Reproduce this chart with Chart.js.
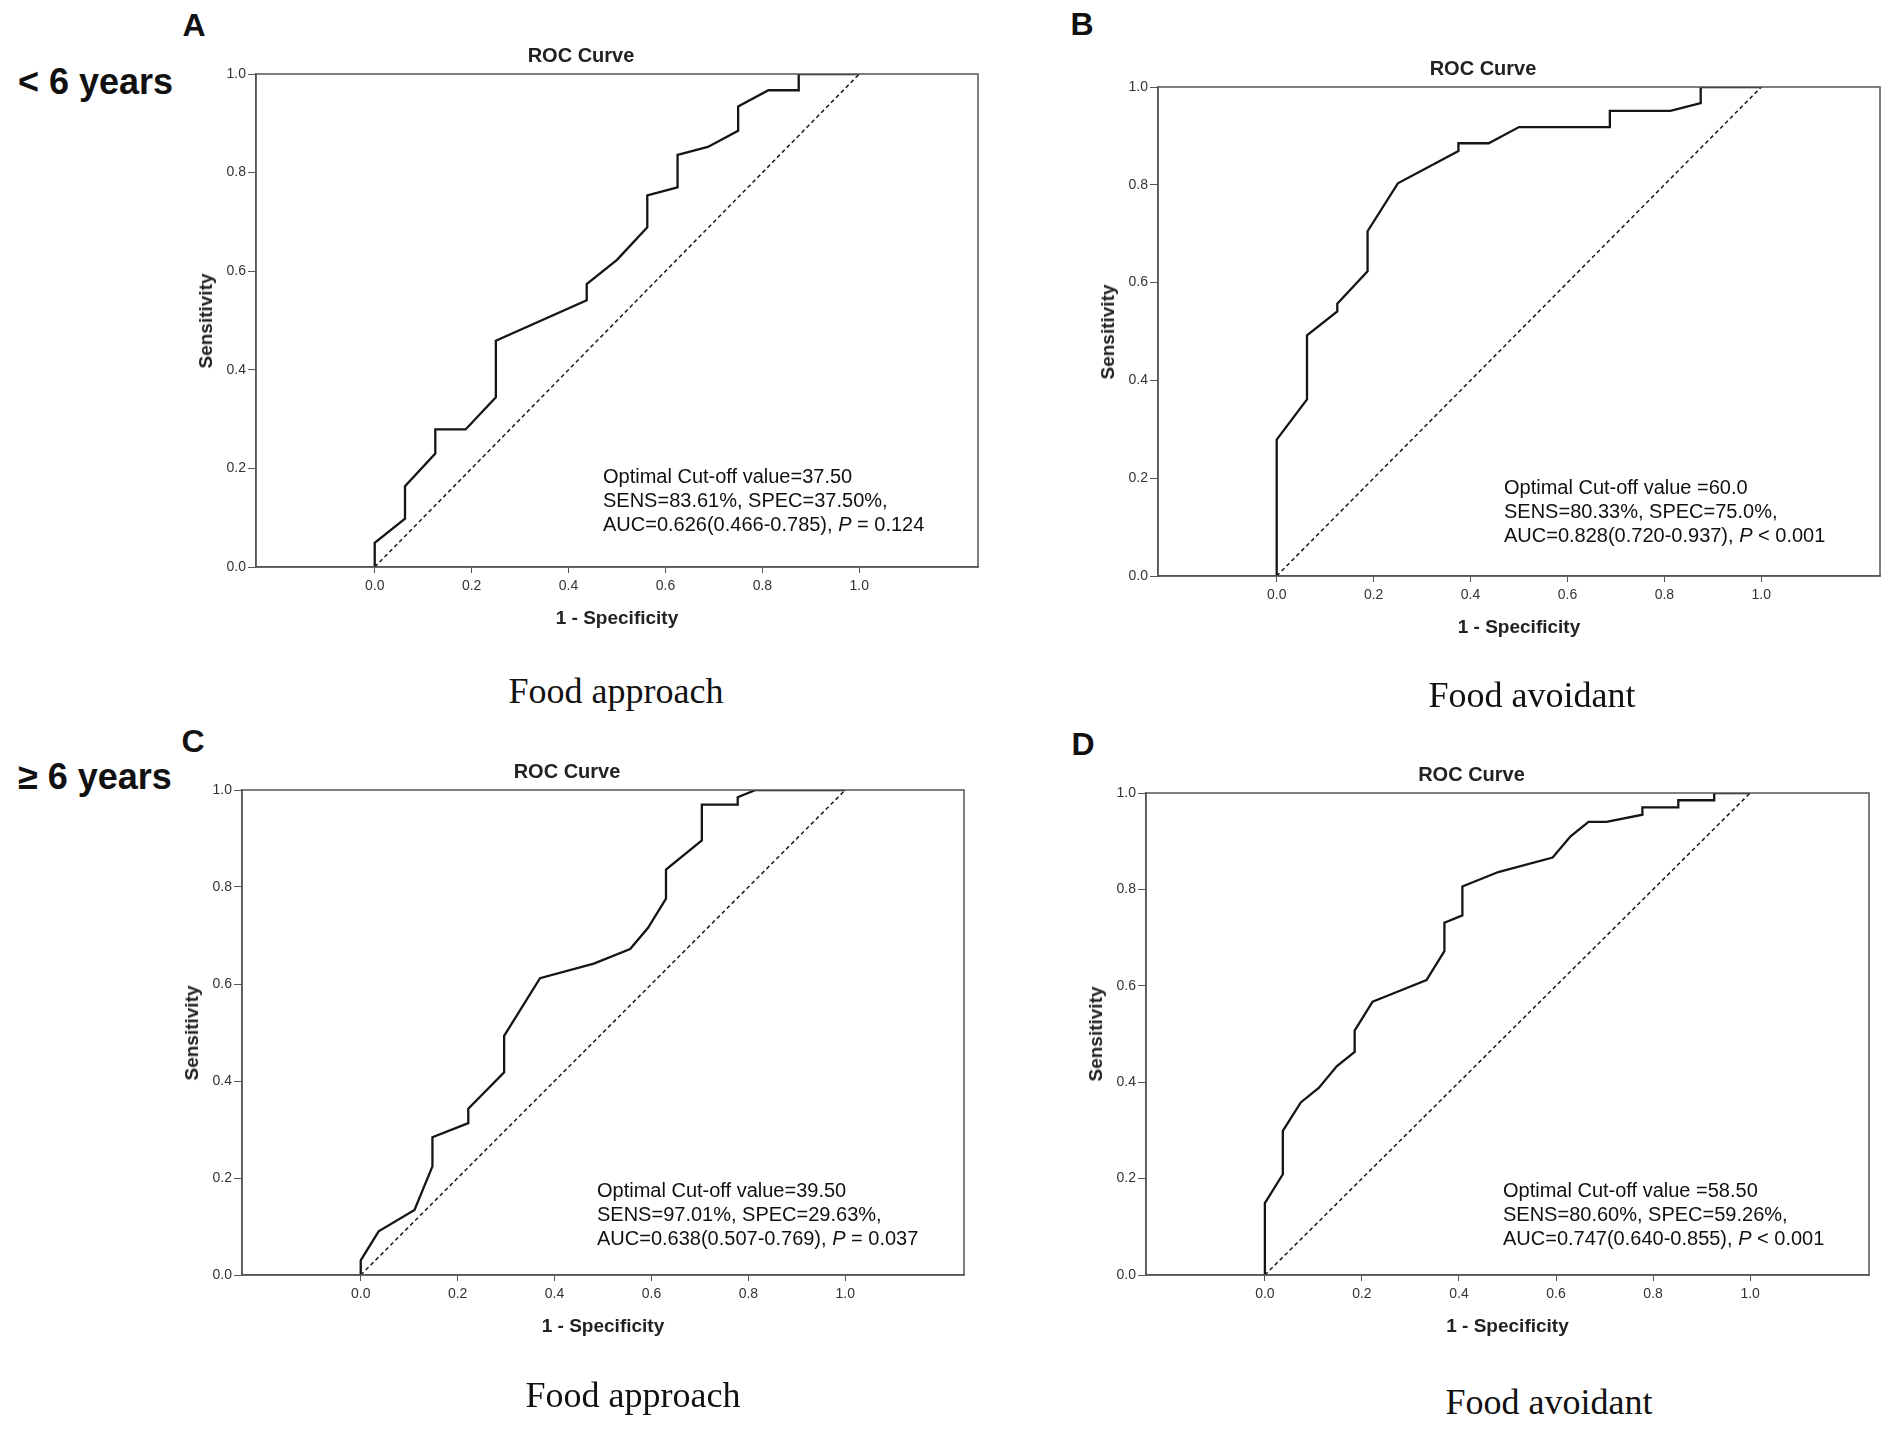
<!DOCTYPE html>
<html>
<head>
<meta charset="utf-8">
<title>ROC curves</title>
<script src="https://cdn.jsdelivr.net/npm/chart.js@4.4.0/dist/chart.umd.min.js"></script>
<style>
  html, body { margin: 0; padding: 0; background: #fff; }
  #page {
    position: relative; width: 1890px; height: 1436px; overflow: hidden;
    font-family: 'Liberation Sans', Arial, sans-serif; color: #111;
  }
  .abs { position: absolute; white-space: nowrap; }
  .mid { transform: translate(-50%, -50%); }
  .vmid { transform: translateY(-50%); }
  .letter { font-weight: bold; font-size: 32px; }
  .age { font-weight: bold; font-size: 36px; }
  .ttl { font-weight: bold; font-size: 20px; color: #222; }
  .xlab { font-weight: bold; font-size: 19px; color: #222; }
  .ylab { font-weight: bold; font-size: 19px; color: #222; transform: translate(-50%, -50%) rotate(-90deg); }
  .note { font-size: 20px; line-height: 24px; color: #111; }
  .cap { font-family: 'Liberation Serif', 'Times New Roman', serif; font-size: 36px; color: #111; }
</style>
</head>
<body>
<div id="page"></div>
<script>
// ROC curve data (1 - specificity vs sensitivity)
const tickVals = [0, 0.2, 0.4, 0.6, 0.8, 1.0];
const diagX = [0, 1];
const diagY = [0, 1];

// A: < 6 years, food approach
const fprA = [0, 0, 0.0625, 0.0625, 0.125, 0.125, 0.1875, 0.25, 0.25, 0.4375, 0.4375, 0.5, 0.5625, 0.5625, 0.625, 0.625, 0.6875, 0.75, 0.75, 0.8125, 0.875, 0.875, 1];
const tprA = [0, 0.049, 0.098, 0.164, 0.230, 0.279, 0.279, 0.344, 0.459, 0.541, 0.574, 0.623, 0.689, 0.754, 0.770, 0.836, 0.852, 0.885, 0.934, 0.967, 0.967, 1, 1];

// B: < 6 years, food avoidant
const fprB = [0, 0, 0.0625, 0.0625, 0.125, 0.125, 0.1875, 0.1875, 0.25, 0.375, 0.375, 0.4375, 0.5, 0.6875, 0.6875, 0.8125, 0.875, 0.875, 1];
const tprB = [0, 0.279, 0.361, 0.492, 0.541, 0.557, 0.623, 0.705, 0.803, 0.869, 0.885, 0.885, 0.918, 0.918, 0.951, 0.951, 0.967, 1, 1];

// C: >= 6 years, food approach
const fprC = [0, 0, 0.037, 0.111, 0.148, 0.148, 0.222, 0.222, 0.296, 0.296, 0.370, 0.481, 0.556, 0.593, 0.630, 0.630, 0.704, 0.704, 0.778, 0.778, 0.815, 1];
const tprC = [0, 0.030, 0.090, 0.134, 0.224, 0.284, 0.313, 0.343, 0.418, 0.493, 0.612, 0.642, 0.672, 0.716, 0.776, 0.836, 0.896, 0.970, 0.970, 0.985, 1, 1];

// D: >= 6 years, food avoidant
const fprD = [0, 0, 0.037, 0.037, 0.074, 0.111, 0.148, 0.185, 0.185, 0.222, 0.259, 0.333, 0.370, 0.370, 0.407, 0.407, 0.481, 0.593, 0.630, 0.667, 0.704, 0.778, 0.778, 0.852, 0.852, 0.926, 0.926, 1];
const tprD = [0, 0.149, 0.209, 0.299, 0.358, 0.388, 0.433, 0.463, 0.507, 0.567, 0.582, 0.612, 0.672, 0.731, 0.746, 0.806, 0.836, 0.866, 0.910, 0.940, 0.940, 0.955, 0.970, 0.970, 0.985, 0.985, 1, 1];

const notesA = ['Optimal Cut-off value=37.50', 'SENS=83.61%, SPEC=37.50%,', 'AUC=0.626(0.466-0.785), <i>P</i> = 0.124'];
const notesB = ['Optimal Cut-off value =60.0', 'SENS=80.33%, SPEC=75.0%,', 'AUC=0.828(0.720-0.937), <i>P</i> &lt; 0.001'];
const notesC = ['Optimal Cut-off value=39.50', 'SENS=97.01%, SPEC=29.63%,', 'AUC=0.638(0.507-0.769), <i>P</i> = 0.037'];
const notesD = ['Optimal Cut-off value =58.50', 'SENS=80.60%, SPEC=59.26%,', 'AUC=0.747(0.640-0.855), <i>P</i> &lt; 0.001'];

// SPSS-style x range: extra room either side of 0..1
const X_MIN = -0.245;
const X_MAX = 1.245;

// Layout of the four panels (plot box edges in page px)
const panels = [
    { letter: 'A', L: 256, R: 978, T: 74, B: 567, fpr: fprA, tpr: tprA, notes: notesA,
      noteX: 603, noteY: 464, cap: 'Food approach', capX: 616, capY: 691, letterX: 194, letterY: 25 },
    { letter: 'B', L: 1158, R: 1880, T: 87, B: 576, fpr: fprB, tpr: tprB, notes: notesB,
      noteX: 1504, noteY: 475, cap: 'Food avoidant', capX: 1532, capY: 695, letterX: 1082, letterY: 24 },
    { letter: 'C', L: 242, R: 964, T: 790, B: 1275, fpr: fprC, tpr: tprC, notes: notesC,
      noteX: 597, noteY: 1178, cap: 'Food approach', capX: 633, capY: 1395, letterX: 193, letterY: 741 },
    { letter: 'D', L: 1146, R: 1869, T: 793, B: 1275, fpr: fprD, tpr: tprD, notes: notesD,
      noteX: 1503, noteY: 1178, cap: 'Food avoidant', capX: 1549, capY: 1402, letterX: 1083, letterY: 744 }
];

const PAD_L = 70, PAD_T = 12, PAD_R = 12, PAD_B = 56;
const tickFont = { family: "'Liberation Sans Narrow', 'Liberation Sans', Arial, sans-serif", size: 14 };

const page = document.getElementById('page');

function addText(cls, html, x, y) {
    const el = document.createElement('div');
    el.className = 'abs ' + cls;
    el.style.left = x + 'px';
    el.style.top = y + 'px';
    el.innerHTML = html;
    page.appendChild(el);
    return el;
}

// Frame the whole plot area like SPSS does
const boxPlugin = {
    id: 'box',
    afterDatasetsDraw(chart) {
        const a = chart.chartArea;
        const ctx = chart.ctx;
        ctx.save();
        ctx.strokeStyle = '#555';
        ctx.lineWidth = 1.5;
        ctx.strokeRect(a.left, a.top, a.right - a.left, a.bottom - a.top);
        ctx.restore();
    }
};

function drawPanel(p) {
    const w = p.R - p.L + PAD_L + PAD_R;
    const h = p.B - p.T + PAD_T + PAD_B;
    const holder = document.createElement('div');
    holder.className = 'abs';
    holder.style.left = (p.L - PAD_L) + 'px';
    holder.style.top = (p.T - PAD_T) + 'px';
    const canvas = document.createElement('canvas');
    canvas.width = w;
    canvas.height = h;
    canvas.style.width = w + 'px';
    canvas.style.height = h + 'px';
    holder.appendChild(canvas);
    page.appendChild(holder);

    new Chart(canvas, {
        type: 'scatter',
        data: {
            datasets: [
                {
                    data: p.fpr.map((x, i) => ({ x, y: p.tpr[i] })),
                    showLine: true,
                    borderColor: '#151515',
                    borderWidth: 2.3,
                    pointRadius: 0,
                    tension: 0
                },
                {
                    data: diagX.map((x, i) => ({ x, y: diagY[i] })),
                    showLine: true,
                    borderColor: '#1a1a1a',
                    borderWidth: 1.5,
                    borderDash: [4, 3],
                    pointRadius: 0
                }
            ]
        },
        options: {
            responsive: false,
            animation: false,
            devicePixelRatio: 1,
            layout: { padding: { left: 0, top: PAD_T, right: PAD_R, bottom: 0 } },
            plugins: { legend: { display: false }, tooltip: { enabled: false } },
            scales: {
                x: {
                    type: 'linear',
                    min: X_MIN,
                    max: X_MAX,
                    afterBuildTicks: s => { s.ticks = tickVals.map(v => ({ value: v })); },
                    afterFit: s => { s.height = PAD_B; },
                    ticks: { color: '#333', font: tickFont, padding: 5, maxRotation: 0,
                             callback: v => v.toFixed(1) },
                    grid: { drawOnChartArea: false, drawTicks: true, tickLength: 6, color: '#555' },
                    border: { display: true, color: '#555', width: 1.5 }
                },
                y: {
                    type: 'linear',
                    min: 0,
                    max: 1,
                    afterBuildTicks: s => { s.ticks = tickVals.map(v => ({ value: v })); },
                    afterFit: s => { s.width = PAD_L; },
                    ticks: { color: '#333', font: tickFont, padding: 2,
                             callback: v => v.toFixed(1) },
                    grid: { drawOnChartArea: false, drawTicks: true, tickLength: 8, color: '#555' },
                    border: { display: true, color: '#555', width: 1.5 }
                }
            }
        },
        plugins: [boxPlugin]
    });

    // Text around the plot
    const cx = (p.L + p.R) / 2;
    addText('letter mid', p.letter, p.letterX, p.letterY);
    addText('ttl mid', 'ROC Curve', cx - 36, p.T - 19);
    addText('ylab', 'Sensitivity', p.L - 50, (p.T + p.B) / 2);
    addText('xlab mid', '1 - Specificity', cx, p.B + 51);
    addText('note', p.notes.join('<br>'), p.noteX, p.noteY);
    addText('cap mid', p.cap, p.capX, p.capY);
}

panels.forEach(drawPanel);

// Row labels
addText('age vmid', '&lt; 6 years', 18, 82);
addText('age vmid', '&ge; 6 years', 18, 777);
</script>
</body>
</html>
